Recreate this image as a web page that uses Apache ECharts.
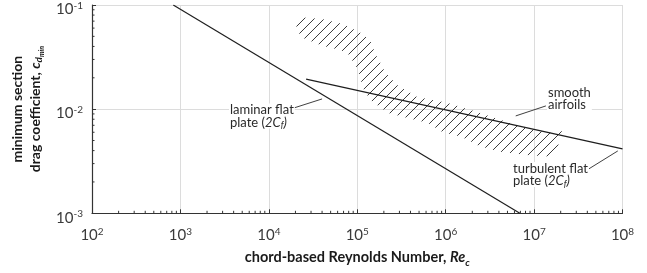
<!DOCTYPE html>
<html>
<head>
<meta charset="utf-8">
<script src="https://cdn.jsdelivr.net/npm/echarts@6/dist/echarts.min.js"></script>
<style>
html,body{margin:0;padding:0;background:#fff;}
#main{width:647px;height:273px;}
</style>
</head>
<body>
<div id="main"></div>
<script>
//层流平板 2Cf
var laminarRe = [830, 6.9e6];
var laminarCd = [0.1, 0.001];
//湍流平板 2Cf
var turbRe = [2.64e4, 1e8];
var turbCd = [0.0194, 0.00415];
//光滑翼型阴影带 上边界
var bandUpRe = [2.09e4, 4.0e4, 6.9e4, 1.05e5, 1.40e5, 1.59e5, 2.06e5, 2.82e5, 4.74e5, 1.04e6, 2.26e6, 6.4e6, 1.43e7, 2.29e7];
var bandUpCd = [0.0767, 0.0734, 0.0657, 0.0551, 0.0461, 0.0346, 0.0228, 0.0171, 0.0131, 0.0115, 0.0094, 0.0070, 0.0059, 0.0062];
//下边界
var bandLowRe = [2.04e4, 2.44e4, 4.1e4, 6.4e4, 7.9e4, 1.02e5, 1.16e5, 1.40e5, 2.23e5, 3.76e5, 6.2e5, 9.3e5, 1.53e6, 2.44e6, 4.1e6, 9.0e6, 1.59e7];
var bandLowCd = [0.0575, 0.0482, 0.0404, 0.0370, 0.0339, 0.0238, 0.0160, 0.0123, 0.0092, 0.0082, 0.0074, 0.0060, 0.0054, 0.0044, 0.0039, 0.0036, 0.0035];
//引线
var leaderLaminar = [[1.93e4, 0.01028], [4.0e4, 0.01253]];
var leaderAirfoil = [[1.36e7, 0.01074], [6.2e6, 0.00861]];
var leaderTurb = [[4.16e7, 0.00267], [8.85e7, 0.00397]];
//坐标轴范围
var xMin = 1e2, xMax = 1e8;
var yMin = 1e-3, yMax = 1e-1;

var FONT = 'Lato';
var TXT = '#1a1a1a';

function pairs(xs, ys) {
	var arr = [];
	for (var i = 0; i < xs.length; i++) {
		arr.push([xs[i], ys[i]]);
	}
	return arr;
}

//次刻度 2..9
function minorVals(lo, hi) {
	var arr = [];
	for (var d = lo; d < hi; d *= 10) {
		for (var k = 2; k <= 9; k++) {
			arr.push(k * d);
		}
	}
	return arr;
}
var xMinor = minorVals(xMin, xMax);
var yMinor = minorVals(yMin, yMax);

function fmtPow(v) {
	var e = Math.round(Math.log(v) / Math.LN10);
	return '{b|10}{s|' + e + '}';
}
var powRich = {
	b: {fontSize: 15, lineHeight: 17, verticalAlign: 'top', padding: [1.5, 0, 0, 0], color: '#3a3a3a', fontFamily: FONT},
	s: {fontSize: 10, lineHeight: 17, verticalAlign: 'top', color: '#3a3a3a', fontFamily: FONT}
};

//标题用富文本, 下标靠 padding 下移
function titleRich(size, subPad, subsubPad, lh) {
	return {
		t: {fontSize: size, fontWeight: 'bold', lineHeight: lh, verticalAlign: 'top', color: TXT, fontFamily: FONT},
		ti: {fontSize: size, fontWeight: 'bold', fontStyle: 'italic', lineHeight: lh, verticalAlign: 'top', color: TXT, fontFamily: FONT},
		sub: {fontSize: 10, fontWeight: 'bold', fontStyle: 'italic', lineHeight: lh, verticalAlign: 'top', padding: [subPad, 0, 0, 0], color: TXT, fontFamily: FONT},
		subsub: {fontSize: 7, fontWeight: 'bold', fontStyle: 'italic', lineHeight: lh, verticalAlign: 'top', padding: [subsubPad, 0, 0, 0], color: TXT, fontFamily: FONT}
	};
}

function annRich() {
	return {
		n: {fontSize: 13, lineHeight: 12.5, verticalAlign: 'top', fill: '#2a2a2a', fontFamily: FONT},
		i: {fontSize: 13, fontStyle: 'italic', lineHeight: 12.5, verticalAlign: 'top', fill: '#2a2a2a', fontFamily: FONT},
		sub: {fontSize: 9, fontStyle: 'italic', lineHeight: 12.5, verticalAlign: 'top', padding: [5, 0, 0, 0], fill: '#2a2a2a', fontFamily: FONT}
	};
}

//阴影线
function renderBand(params, api) {
	if (params.dataIndex > 0) return null;
	var pts = [];
	for (var i = 0; i < bandUpRe.length; i++) pts.push(api.coord([bandUpRe[i], bandUpCd[i]]));
	for (var j = bandLowRe.length - 1; j >= 0; j--) pts.push(api.coord([bandLowRe[j], bandLowCd[j]]));
	var cMin = Infinity, cMax = -Infinity;
	pts.forEach(function(p) {
		cMin = Math.min(cMin, p[0] + p[1]);
		cMax = Math.max(cMax, p[0] + p[1]);
	});
	var children = [];
	var step = 10;
	for (var c = Math.ceil(cMin / step) * step + 3; c <= cMax; c += step) {
		var xs = [];
		for (var k = 0; k < pts.length; k++) {
			var a = pts[k], b = pts[(k + 1) % pts.length];
			var fa = a[0] + a[1] - c, fb = b[0] + b[1] - c;
			if ((fa < 0) !== (fb < 0)) {
				var t = fa / (fa - fb);
				xs.push(a[0] + t * (b[0] - a[0]));
			}
		}
		xs.sort(function(m, n) { return m - n; });
		for (var q = 0; q + 1 < xs.length; q += 2) {
			children.push({
				type: 'line',
				shape: {x1: xs[q], y1: c - xs[q], x2: xs[q + 1], y2: c - xs[q + 1]},
				style: {stroke: '#3a3a3a', lineWidth: 1}
			});
		}
	}
	return {type: 'group', children: children};
}

//次刻度线
function renderMinor(params, api) {
	if (params.dataIndex > 0) return null;
	var children = [];
	xMinor.forEach(function(v) {
		var p = api.coord([v, yMin]);
		children.push({type: 'line', shape: {x1: p[0], y1: p[1], x2: p[0], y2: p[1] - 2.5}, style: {stroke: '#333', lineWidth: 1}});
	});
	yMinor.forEach(function(v) {
		var p = api.coord([xMin, v]);
		children.push({type: 'line', shape: {x1: p[0], y1: p[1], x2: p[0] + 2.5, y2: p[1]}, style: {stroke: '#333', lineWidth: 1}});
	});
	return {type: 'group', children: children};
}

var myChart = echarts.init(document.getElementById('main'));

var lineStyle = {color: '#1e1e1e', width: 1.2};
var leaderStyle = {color: '#2a2a2a', width: 0.9};

var option = {
	animation: false,
	backgroundColor: '#fff',
	grid: {left: 92, right: 24.5, top: 5, bottom: 59.7},
	xAxis: {
		type: 'log',
		logBase: 10,
		min: xMin,
		max: xMax,
		name: '{t|chord-based Reynolds Number, }{ti|Re}{sub|c}',
		nameLocation: 'middle',
		nameGap: 37,
		nameTextStyle: {rich: titleRich(14.5, 7, 0, 16)},
		axisLine: {lineStyle: {color: '#333', width: 1.2}},
		axisTick: {inside: true, length: 4, lineStyle: {color: '#333'}},
		axisLabel: {margin: 13, formatter: fmtPow, rich: powRich, showMinLabel: true, showMaxLabel: true},
		splitLine: {show: true, lineStyle: {color: '#dcdcdc', width: 1}}
	},
	yAxis: {
		type: 'log',
		logBase: 10,
		min: yMin,
		max: yMax,
		name: '{t|minimum section}\n{t|drag coefficient, }{ti|c}{sub|d}{subsub|min}',
		nameLocation: 'middle',
		nameRotate: 90,
		nameGap: 30,
		nameTextStyle: {align: 'center', rich: titleRich(14, 6, 10, 18)},
		axisLine: {lineStyle: {color: '#333', width: 1.2}},
		axisTick: {inside: true, length: 4, lineStyle: {color: '#333'}},
		axisLabel: {margin: 9, formatter: fmtPow, rich: powRich, padding: [8, 0, 0, 0], showMinLabel: true, showMaxLabel: true},
		splitLine: {show: true, lineStyle: {color: '#dcdcdc', width: 1}}
	},
	series: [{
		name: 'band',
		type: 'custom',
		renderItem: renderBand,
		data: [[bandUpRe[0], bandUpCd[0]]],
		silent: true,
		z: 3
	}, {
		name: 'minor',
		type: 'custom',
		renderItem: renderMinor,
		data: [[xMin, yMin]],
		silent: true,
		clip: false,
		z: 5
	}, {
		name: 'laminar',
		type: 'line',
		data: pairs(laminarRe, laminarCd),
		symbol: 'none',
		lineStyle: lineStyle,
		z: 4
	}, {
		name: 'turbulent',
		type: 'line',
		data: pairs(turbRe, turbCd),
		symbol: 'none',
		lineStyle: lineStyle,
		z: 4
	}, {
		type: 'line', data: leaderLaminar, symbol: 'none', lineStyle: leaderStyle
	}, {
		type: 'line', data: leaderAirfoil, symbol: 'none', lineStyle: leaderStyle
	}, {
		type: 'line', data: leaderTurb, symbol: 'none', lineStyle: leaderStyle
	}],
	graphic: [{
		type: 'text', left: 229, top: 103.5, z: 10,
		style: {
			text: '{n|laminar flat}\n{n|plate (}{i|2C}{sub|f}{i|)}',
			rich: annRich(),
			backgroundColor: '#fff',
			padding: [0, 1, 0, 1]
		}
	}, {
		type: 'text', left: 547, top: 86, z: 10,
		style: {
			text: '{n|smooth}\n{n|airfoils}',
			rich: annRich(),
			backgroundColor: '#fff',
			padding: [0, 1, 0, 1]
		}
	}, {
		type: 'text', left: 512, top: 162, z: 10,
		style: {
			text: '{n|turbulent flat}\n{n|plate (}{i|2C}{sub|f}{i|)}',
			rich: annRich(),
			backgroundColor: '#fff',
			padding: [0, 1, 0, 1]
		}
	}]
};

myChart.setOption(option);
</script>
</body>
</html>
